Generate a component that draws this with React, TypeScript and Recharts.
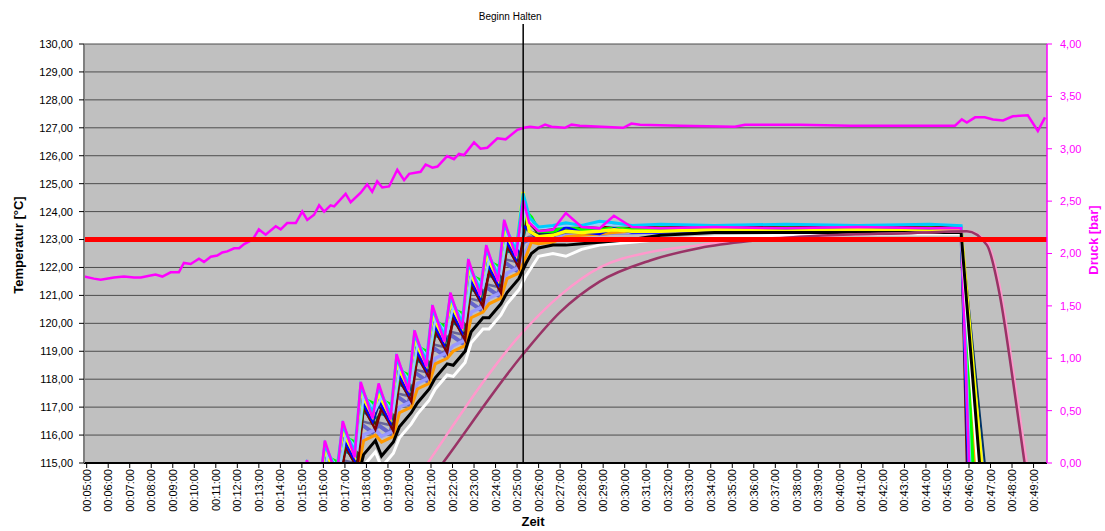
import React from "react";
import { LineChart, Line, XAxis, YAxis, CartesianGrid, ReferenceLine } from "recharts";

// x axis: time of day in seconds, labelled every minute
const timeTicks = [
  "00:05:00", "00:06:00", "00:07:00", "00:08:00", "00:09:00", "00:10:00", "00:11:00", "00:12:00", "00:13:00",
  "00:14:00", "00:15:00", "00:16:00", "00:17:00", "00:18:00", "00:19:00", "00:20:00", "00:21:00", "00:22:00",
  "00:23:00", "00:24:00", "00:25:00", "00:26:00", "00:27:00", "00:28:00", "00:29:00", "00:30:00", "00:31:00",
  "00:32:00", "00:33:00", "00:34:00", "00:35:00", "00:36:00", "00:37:00", "00:38:00", "00:39:00", "00:40:00",
  "00:41:00", "00:42:00", "00:43:00", "00:44:00", "00:45:00", "00:46:00", "00:47:00", "00:48:00", "00:49:00",
];
const tempTicks = [115, 116, 117, 118, 119, 120, 121, 122, 123, 124, 125, 126, 127, 128, 129, 130];
const pressTicks = [0, 0.5, 1, 1.5, 2, 2.5, 3, 3.5, 4];

const setPoint = 123;
const holdStart = 1517;

// sensor sample times (s): leading probes and probes that respond a little later
const sensorTimes = [
  800, 897, 914, 947, 964, 997, 1014, 1047, 1064, 1097, 1114, 1147, 1164, 1197, 1214, 1247, 1264, 1297, 1314, 1347,
  1364, 1397, 1414, 1447, 1464, 1497, 1517, 1534, 1560, 1600, 1636, 1680, 1730, 1770, 1820, 1900, 2050, 2250, 2450,
  2650, 2738,
];
const lagTimes = [
  808, 905, 922, 955, 972, 1005, 1022, 1055, 1072, 1105, 1122, 1155, 1172, 1205, 1222, 1255, 1272, 1305, 1322, 1355,
  1372, 1405, 1422, 1455, 1472, 1505, 1525, 1540, 1560, 1600, 1636, 1680, 1730, 1770, 1820, 1900, 2050, 2250, 2450,
  2650, 2738,
];
const dropFloor = 112;

const tMagenta = [112.0, 113.0, 115.1, 113.8, 115.8, 114.5, 116.5, 115.2, 117.9, 116.6, 117.85, 116.55, 118.9, 117.6, 119.75, 118.45, 120.65, 119.35, 121.1, 119.8, 122.3, 121.0, 122.8, 121.5, 123.7, 122.4, 124.4, 123.6, 123.3, 123.35, 123.95, 123.45, 123.4, 123.85, 123.45, 123.4, 123.45, 123.4, 123.45, 123.4, 123.4];
const tCyan = [112.2, 113.2, 114.95, 114.0, 115.65, 114.7, 116.35, 115.4, 117.75, 116.8, 117.7, 116.75, 118.75, 117.8, 119.6, 118.65, 120.5, 119.55, 120.95, 120.0, 122.15, 121.2, 122.65, 121.7, 123.55, 122.6, 124.65, 123.8, 123.45, 123.5, 123.6, 123.5, 123.65, 123.6, 123.5, 123.55, 123.5, 123.55, 123.5, 123.55, 123.5];
const tLightBlue = [112.0, 113.2, 114.6, 114.1, 115.3, 114.8, 116.0, 115.5, 117.4, 116.9, 117.35, 116.85, 118.4, 117.9, 119.25, 118.75, 120.15, 119.65, 120.6, 120.1, 121.8, 121.3, 122.3, 121.8, 123.2, 122.7, 124.2, 123.55, 123.4, 123.45, 123.5, 123.5, 123.55, 123.5, 123.5, 123.55, 123.5, 123.55, 123.5, 123.55, 123.5];
const tYellow = [112.0, 113.0, 114.75, 113.9, 115.45, 114.6, 116.15, 115.3, 117.55, 116.7, 117.5, 116.65, 118.55, 117.7, 119.4, 118.55, 120.3, 119.45, 120.75, 119.9, 121.95, 121.1, 122.45, 121.6, 123.35, 122.5, 124.7, 123.3, 123.1, 123.15, 123.3, 123.25, 123.3, 123.35, 123.3, 123.3, 123.35, 123.3, 123.35, 123.3, 123.35];
const tGreen = [111.8, 113.4, 114.5, 114.3, 115.2, 115.0, 115.9, 115.7, 117.3, 117.1, 117.25, 117.05, 118.3, 118.1, 119.15, 118.95, 120.05, 119.85, 120.5, 120.3, 121.7, 121.5, 122.2, 122.0, 123.1, 122.9, 124.0, 123.8, 123.3, 123.3, 123.45, 123.35, 123.35, 123.4, 123.35, 123.4, 123.35, 123.4, 123.35, 123.4, 123.35];
const tBlue = [111.6, 112.8, 114.5, 113.7, 115.2, 114.4, 115.9, 115.1, 117.3, 116.5, 117.25, 116.45, 118.3, 117.5, 119.15, 118.35, 120.05, 119.25, 120.5, 119.7, 121.7, 120.9, 122.2, 121.4, 123.1, 122.3, 123.5, 123.3, 123.0, 123.1, 123.45, 123.25, 123.2, 123.4, 123.25, 123.25, 123.3, 123.25, 123.2, 123.25, 123.25];
const tNavy = [111.4, 112.7, 114.3, 113.6, 115.0, 114.3, 115.7, 115.0, 117.1, 116.4, 117.05, 116.35, 118.1, 117.4, 118.95, 118.25, 119.85, 119.15, 120.3, 119.6, 121.5, 120.8, 122.0, 121.3, 122.9, 122.2, 123.6, 123.3, 123.2, 123.25, 123.35, 123.3, 123.3, 123.35, 123.3, 123.3, 123.3, 123.3, 123.3, 123.3, 123.3];
const tTeal = [111.5, 112.9, 114.0, 113.8, 114.7, 114.5, 115.4, 115.2, 116.8, 116.6, 116.75, 116.55, 117.8, 117.6, 118.65, 118.45, 119.55, 119.35, 120.0, 119.8, 121.2, 121.0, 121.7, 121.5, 122.6, 122.4, 123.4, 123.2, 123.15, 123.2, 123.3, 123.3, 123.3, 123.3, 123.3, 123.3, 123.3, 123.3, 123.3, 123.3, 123.3];
const tOlive = [111.5, 112.8, 114.2, 113.6, 114.9, 114.3, 115.6, 115.0, 117.0, 116.4, 116.95, 116.35, 118.0, 117.4, 118.85, 118.25, 119.75, 119.15, 120.2, 119.6, 121.4, 120.8, 121.9, 121.3, 122.8, 122.2, 123.8, 123.5, 123.2, 123.25, 123.35, 123.3, 123.3, 123.35, 123.3, 123.3, 123.35, 123.3, 123.35, 123.3, 123.3];
const tPurple = [111.3, 112.7, 113.7, 113.6, 114.4, 114.3, 115.1, 115.0, 116.5, 116.4, 116.45, 116.35, 117.5, 117.4, 118.35, 118.25, 119.25, 119.15, 119.7, 119.6, 120.9, 120.8, 121.4, 121.3, 122.3, 122.2, 123.0, 123.1, 123.1, 123.15, 123.25, 123.25, 123.25, 123.3, 123.3, 123.3, 123.3, 123.3, 123.3, 123.3, 123.3];
const tSlate = [111.3, 112.5, 113.6, 113.3, 114.3, 114.0, 115.0, 114.7, 116.4, 116.1, 116.35, 116.05, 117.4, 117.1, 118.25, 117.95, 119.15, 118.85, 119.6, 119.3, 120.8, 120.5, 121.3, 121.0, 122.2, 121.9, 122.9, 123.0, 122.95, 123.0, 123.15, 123.2, 123.2, 123.25, 123.25, 123.3, 123.3, 123.3, 123.3, 123.3, 123.3];
const tLavender = [111.0, 112.4, 113.2, 113.4, 113.9, 114.1, 114.6, 114.8, 116.0, 116.2, 115.95, 116.15, 117.0, 117.2, 117.85, 118.05, 118.75, 118.95, 119.2, 119.4, 120.4, 120.6, 120.9, 121.1, 121.8, 122.0, 122.6, 122.95, 122.95, 123.0, 123.15, 123.2, 123.2, 123.25, 123.25, 123.25, 123.3, 123.25, 123.3, 123.25, 123.25];
const tOrange = [111.0, 112.3, 113.0, 113.2, 113.7, 113.9, 114.4, 114.6, 115.8, 116.0, 115.75, 115.95, 116.8, 117.0, 117.65, 117.85, 118.55, 118.75, 119.0, 119.2, 120.2, 120.4, 120.7, 120.9, 121.6, 121.8, 122.4, 122.9, 122.85, 122.9, 123.1, 123.15, 123.2, 123.25, 123.3, 123.3, 123.35, 123.3, 123.35, 123.3, 123.35];
const tMaroon = [111.2, 112.6, 114.2, 113.4, 114.9, 114.1, 115.6, 114.8, 117.0, 116.2, 116.95, 116.15, 118.0, 117.2, 118.85, 118.05, 119.75, 118.95, 120.2, 119.4, 121.4, 120.6, 121.9, 121.1, 122.8, 122.0, 123.9, 123.5, 123.35, 123.4, 123.5, 123.45, 123.4, 123.5, 123.45, 123.45, 123.45, 123.45, 123.45, 123.45, 123.45];
const tBlack = [110.5, 111.8, 112.5, 113.0, 113.2, 113.7, 113.9, 114.4, 115.3, 115.8, 115.25, 115.75, 116.3, 116.8, 117.15, 117.65, 118.05, 118.55, 118.5, 119.0, 119.7, 120.2, 120.2, 120.7, 121.1, 121.6, 122.15, 122.5, 122.7, 122.8, 122.8, 122.85, 122.9, 122.95, 123.0, 123.15, 123.25, 123.25, 123.25, 123.25, 123.25];
const tWhite = [110.2, 111.4, 112.1, 112.6, 112.8, 113.3, 113.5, 114.0, 114.9, 115.4, 114.85, 115.35, 115.9, 116.4, 116.75, 117.25, 117.65, 118.15, 118.1, 118.6, 119.3, 119.8, 119.8, 120.3, 120.7, 121.2, 121.7, 122.0, 122.4, 122.5, 122.4, 122.65, 122.8, 122.85, 122.9, 123.0, 123.1, 123.15, 123.2, 123.2, 123.2];

// time (s) at which each sensor has fallen to dropFloor at the end
const dropEnd = {
  magenta: 2768, cyan: 2768, lightBlue: 2772, yellow: 2815, green: 2782, blue: 2764, navy: 2828, teal: 2786,
  olive: 2775, purple: 2778, slate: 2784, lavender: 2800, orange: 2792, maroon: 2760, black: 2808, white: 2800,
};

// slow reference probes
const pinkTimes = [1230, 1251, 1517, 1620, 1731, 1871, 2010, 2150, 2289, 2428, 2568, 2754, 2810, 2846, 2882, 2921, 2935];
const pinkValues = [114.6, 115.0, 119.7, 121.0, 122.0, 122.55, 122.8, 123.0, 123.1, 123.17, 123.22, 123.3, 122.9, 121.3, 118.4, 115.0, 113.8];
const plumTimes = [1270, 1293, 1517, 1620, 1731, 1871, 2010, 2150, 2289, 2428, 2568, 2754, 2810, 2846, 2882, 2915, 2930];
const plumValues = [114.6, 115.0, 118.9, 120.4, 121.5, 122.25, 122.7, 122.95, 123.1, 123.18, 123.22, 123.3, 122.8, 121.0, 118.0, 115.0, 113.6];

// pressure [bar]
const pressTimes = [
  293, 320, 339, 376, 404, 432, 451, 478, 492, 511, 534, 557, 571, 590, 613, 627, 646, 664, 678, 692,
  711, 725, 739, 762, 780, 799, 827, 841, 859, 883, 901, 915, 934, 948, 962, 980, 990, 1022, 1036, 1064,
  1082, 1096, 1110, 1124, 1143, 1166, 1185, 1199, 1231, 1245, 1264, 1278, 1305, 1324, 1338, 1352, 1380, 1398, 1417, 1445,
  1468, 1501, 1519, 1536, 1559, 1578, 1596, 1633, 1652, 1675, 1796, 1819, 1843, 1954, 2107, 2135, 2289, 2428, 2568, 2721,
  2740, 2754, 2777, 2804, 2827, 2855, 2882, 2924, 2952, 2972,
];
const pressValues = [
  1.78, 1.76, 1.75, 1.77, 1.78, 1.77, 1.77, 1.79, 1.80, 1.78, 1.82, 1.82, 1.91, 1.90, 1.95, 1.92, 1.97, 1.98, 2.01, 2.02,
  2.05, 2.05, 2.09, 2.13, 2.23, 2.18, 2.26, 2.23, 2.29, 2.29, 2.40, 2.32, 2.37, 2.46, 2.40, 2.46, 2.45, 2.57, 2.49, 2.58,
  2.66, 2.59, 2.69, 2.63, 2.64, 2.80, 2.70, 2.76, 2.78, 2.85, 2.82, 2.83, 2.93, 2.90, 2.95, 2.94, 3.06, 3.00, 3.01, 3.10,
  3.09, 3.18, 3.20, 3.21, 3.20, 3.23, 3.21, 3.20, 3.23, 3.22, 3.20, 3.24, 3.23, 3.22, 3.21, 3.23, 3.23, 3.22, 3.22, 3.22,
  3.28, 3.25, 3.30, 3.30, 3.28, 3.27, 3.31, 3.32, 3.17, 3.30,
];

const toSec = (s: string) => {
  const [h, m, sec] = s.split(":").map(Number);
  return h * 3600 + m * 60 + sec;
};
const fmtTime = (v: number) => {
  const m = Math.floor(v / 60), s = Math.round(v % 60);
  return `00:${String(m).padStart(2, "0")}:${String(s).padStart(2, "0")}`;
};
const comma = (v: number) => v.toFixed(2).replace(".", ",");

const zip = (ts: number[], vs: number[]) => ts.map((t, i) => ({ t, v: vs[i] }));
const sensorData = (ts: number[], vs: number[], end: number) => [...zip(ts, vs), { t: end, v: dropFloor }];

// draw order: back to front
const sensors = [
  { key: "slate",     color: "#6666CC", w: 4,   times: sensorTimes, values: tSlate },
  { key: "lavender",  color: "#9999FF", w: 3.5, times: lagTimes,    values: tLavender },
  { key: "purple",    color: "#666699", w: 2.5, times: sensorTimes, values: tPurple },
  { key: "teal",      color: "#008080", w: 2,   times: lagTimes,    values: tTeal },
  { key: "orange",    color: "#FF9900", w: 3,   times: lagTimes,    values: tOrange },
  { key: "olive",     color: "#333300", w: 2,   times: lagTimes,    values: tOlive },
  { key: "navy",      color: "#003366", w: 2,   times: sensorTimes, values: tNavy },
  { key: "maroon",    color: "#800000", w: 2.5, times: lagTimes,    values: tMaroon },
  { key: "green",     color: "#00FF00", w: 3.5, times: lagTimes,    values: tGreen },
  { key: "blue",      color: "#0000FF", w: 2.5, times: sensorTimes, values: tBlue },
  { key: "yellow",    color: "#FFFF00", w: 3.5, times: sensorTimes, values: tYellow },
  { key: "lightBlue", color: "#99CCFF", w: 2.5, times: lagTimes,    values: tLightBlue },
  { key: "cyan",      color: "#00CCFF", w: 3,   times: sensorTimes, values: tCyan },
  { key: "magenta",   color: "#FF00FF", w: 2.5, times: sensorTimes, values: tMagenta },
  { key: "white",     color: "#FFFFFF", w: 3,   times: lagTimes,    values: tWhite },
  { key: "black",     color: "#000000", w: 3,   times: lagTimes,    values: tBlack },
];

const FONT = '"Liberation Sans", Arial, sans-serif';

const TimeTick = ({ x, y, payload }: any) => (
  <text x={x} y={y} dy={4} transform={`rotate(-90, ${x}, ${y})`} textAnchor="end" fontSize={11} fill="#000" fontFamily={FONT}>
    {fmtTime(payload.value)}
  </text>
);

const HoldLabel = ({ viewBox }: any) => {
  const { x, y } = viewBox;
  return (
    <g>
      <line x1={x} x2={x} y1={24} y2={y} stroke="#000" strokeWidth={1.5} />
      <text x={x - 13} y={20} textAnchor="middle" fontSize={10} fill="#000" fontFamily={FONT}>Beginn Halten</text>
    </g>
  );
};

export default function App() {
  const xTicks = timeTicks.map(toSec);
  return (
    <div style={{ position: "absolute", left: 0, top: 0, width: 1105, height: 531, background: "#fff", fontFamily: FONT }}>
      <LineChart width={1105} height={531} margin={{ top: 44, right: 0, bottom: 0, left: 0 }} style={{ fontFamily: FONT }}>
        <CartesianGrid yAxisId="temp" vertical={false} stroke="#4d4d4d" fill="#C0C0C0" />
        <XAxis
          dataKey="t" type="number" domain={[292.5, 2977.5]} allowDataOverflow ticks={xTicks} interval={0}
          height={68} tick={<TimeTick />} tickSize={5} tickMargin={1}
          axisLine={{ stroke: "#000", strokeWidth: 2 }} tickLine={{ stroke: "#000" }}
        />
        <YAxis
          yAxisId="temp" domain={[115, 130]} ticks={tempTicks} allowDataOverflow width={84} interval={0}
          tickFormatter={comma} tick={{ fontSize: 11, fill: "#000" }} tickSize={5} tickMargin={6}
          axisLine={{ stroke: "#808080", strokeWidth: 2 }} tickLine={{ stroke: "#000" }}
        />
        <YAxis
          yAxisId="p" orientation="right" domain={[0, 4]} ticks={pressTicks} allowDataOverflow width={58} interval={0}
          tickFormatter={comma} tick={{ fontSize: 11, fill: "#FF00FF" }} tickSize={5} tickMargin={8}
          axisLine={{ stroke: "#FF00FF", strokeWidth: 1.5 }} tickLine={{ stroke: "#FF00FF" }}
        />
        {sensors.map(s => (
          <Line
            key={s.key} data={sensorData(s.times, s.values, dropEnd[s.key as keyof typeof dropEnd])} dataKey="v" yAxisId="temp"
            stroke={s.color} strokeWidth={s.w} dot={false} activeDot={false} isAnimationActive={false}
          />
        ))}
        <Line data={zip(pinkTimes, pinkValues)} dataKey="v" yAxisId="temp" type="monotone" stroke="#FF99CC" strokeWidth={2.5} dot={false} isAnimationActive={false} />
        <Line data={zip(plumTimes, plumValues)} dataKey="v" yAxisId="temp" type="monotone" stroke="#993366" strokeWidth={2.5} dot={false} isAnimationActive={false} />
        <Line data={zip(pressTimes, pressValues)} dataKey="v" yAxisId="p" stroke="#FF00FF" strokeWidth={2.5} dot={false} isAnimationActive={false} />
        <ReferenceLine yAxisId="temp" y={setPoint} stroke="#FF0000" strokeWidth={5} />
        <ReferenceLine yAxisId="temp" x={holdStart} stroke="#000" strokeWidth={1.5} label={<HoldLabel />} />
      </LineChart>
      <div style={{ position: "absolute", left: 18, top: 245, transform: "translate(-50%, -50%) rotate(-90deg)", whiteSpace: "nowrap", fontWeight: "bold", fontSize: 13 }}>
        Temperatur [°C]
      </div>
      <div style={{ position: "absolute", left: 1093, top: 240, transform: "translate(-50%, -50%) rotate(-90deg)", whiteSpace: "nowrap", fontWeight: "bold", fontSize: 13, color: "#FF00FF" }}>
        Druck [bar]
      </div>
      <div style={{ position: "absolute", left: 533, top: 521, transform: "translate(-50%, -50%)", whiteSpace: "nowrap", fontWeight: "bold", fontSize: 13 }}>
        Zeit
      </div>
    </div>
  );
}
